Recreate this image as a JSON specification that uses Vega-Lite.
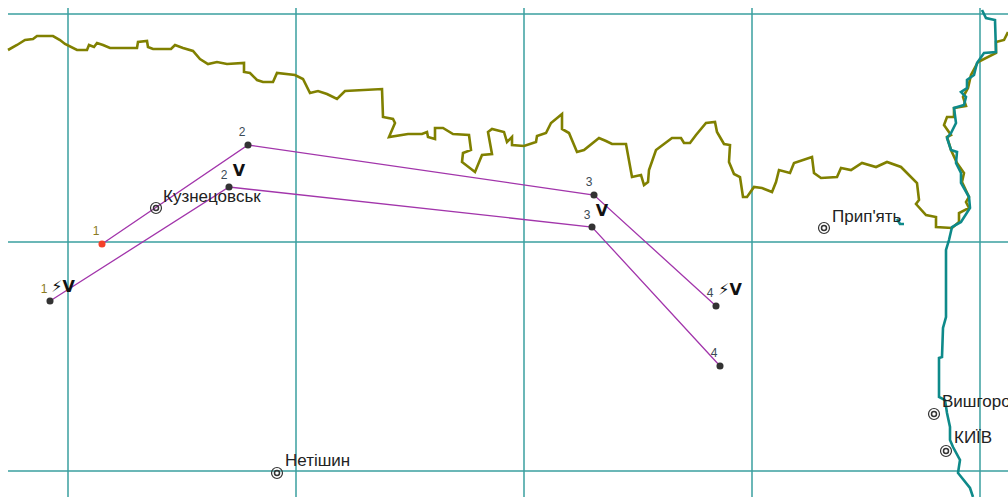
{"$schema":"https://vega.github.io/schema/vega-lite/v6.json","width":1008,"height":497,"padding":0,"autosize":"none","background":"white","config":{"view":{"stroke":null}},
"datasets":{
"grid":[{"g":"h1","x":8,"y":14},{"g":"h1","x":1008,"y":14},{"g":"h2","x":8,"y":242},{"g":"h2","x":1008,"y":242},{"g":"h3","x":8,"y":471},{"g":"h3","x":1008,"y":471},{"g":"v1","x":68,"y":8},{"g":"v1","x":68,"y":497},{"g":"v2","x":296,"y":8},{"g":"v2","x":296,"y":497},{"g":"v3","x":524,"y":8},{"g":"v3","x":524,"y":497},{"g":"v4","x":752,"y":8},{"g":"v4","x":752,"y":497},{"g":"v5","x":980,"y":8},{"g":"v5","x":980,"y":497}],
"border":[{"x":8,"y":50},{"x":17,"y":45},{"x":25,"y":40},{"x":33,"y":39},{"x":37,"y":36},{"x":53,"y":36},{"x":60,"y":40},{"x":65,"y":44},{"x":77,"y":50},{"x":87,"y":50},{"x":89,"y":45},{"x":94,"y":47},{"x":97,"y":43},{"x":103,"y":45},{"x":110,"y":48},{"x":137,"y":48},{"x":138,"y":42},{"x":147,"y":41},{"x":148,"y":47},{"x":153,"y":49},{"x":171,"y":49},{"x":175,"y":45},{"x":183,"y":48},{"x":193,"y":51},{"x":200,"y":59},{"x":208,"y":64},{"x":217,"y":62},{"x":227,"y":64},{"x":244,"y":63},{"x":244,"y":72},{"x":250,"y":73},{"x":257,"y":80},{"x":263,"y":82},{"x":273,"y":82},{"x":277,"y":73},{"x":295,"y":75},{"x":303,"y":79},{"x":310,"y":93},{"x":318,"y":91},{"x":327,"y":94},{"x":337,"y":99},{"x":345,"y":91},{"x":382,"y":89},{"x":383,"y":117},{"x":393,"y":119},{"x":395,"y":123},{"x":389,"y":137},{"x":408,"y":134},{"x":422,"y":134},{"x":427,"y":132},{"x":428,"y":137},{"x":435,"y":139},{"x":435,"y":128},{"x":443,"y":128},{"x":453,"y":134},{"x":469,"y":135},{"x":471,"y":150},{"x":463,"y":153},{"x":462,"y":162},{"x":475,"y":172},{"x":482,"y":155},{"x":492,"y":154},{"x":488,"y":132},{"x":492,"y":129},{"x":504,"y":132},{"x":507,"y":142},{"x":512,"y":137},{"x":512,"y":145},{"x":524,"y":146},{"x":536,"y":142},{"x":537,"y":136},{"x":546,"y":133},{"x":551,"y":123},{"x":562,"y":114},{"x":562,"y":129},{"x":569,"y":133},{"x":577,"y":152},{"x":584,"y":150},{"x":599,"y":138},{"x":606,"y":141},{"x":612,"y":144},{"x":626,"y":144},{"x":632,"y":177},{"x":641,"y":175},{"x":644,"y":185},{"x":648,"y":182},{"x":649,"y":170},{"x":656,"y":150},{"x":672,"y":138},{"x":681,"y":138},{"x":684,"y":143},{"x":690,"y":143},{"x":696,"y":135},{"x":706,"y":123},{"x":715,"y":122},{"x":717,"y":132},{"x":724,"y":144},{"x":730,"y":145},{"x":729,"y":162},{"x":734,"y":174},{"x":740,"y":177},{"x":743,"y":197},{"x":747,"y":197},{"x":754,"y":187},{"x":762,"y":188},{"x":772,"y":192},{"x":776,"y":182},{"x":779,"y":170},{"x":790,"y":173},{"x":794,"y":163},{"x":812,"y":157},{"x":814,"y":173},{"x":821,"y":178},{"x":837,"y":177},{"x":841,"y":168},{"x":851,"y":170},{"x":862,"y":163},{"x":876,"y":167},{"x":887,"y":162},{"x":901,"y":167},{"x":917,"y":183},{"x":919,"y":200},{"x":916,"y":204},{"x":926,"y":215},{"x":936,"y":217},{"x":936,"y":227},{"x":952,"y":228},{"x":959,"y":222},{"x":959,"y":213},{"x":969,"y":208},{"x":966,"y":202},{"x":969,"y":197},{"x":962,"y":182},{"x":964,"y":173},{"x":957,"y":163},{"x":951,"y":150},{"x":947,"y":137},{"x":951,"y":135},{"x":944,"y":125},{"x":947,"y":117},{"x":954,"y":117},{"x":954,"y":108},{"x":966,"y":106},{"x":963,"y":97},{"x":968,"y":88},{"x":971,"y":75},{"x":978,"y":62},{"x":996,"y":53},{"x":996,"y":42},{"x":1004,"y":40},{"x":1008,"y":32}],
"river":[{"r":"main","x":982,"y":10},{"r":"main","x":986,"y":18},{"r":"main","x":995,"y":20},{"r":"main","x":996,"y":52},{"r":"main","x":984,"y":53},{"r":"main","x":977,"y":63},{"r":"main","x":974,"y":75},{"r":"main","x":967,"y":80},{"r":"main","x":967,"y":88},{"r":"main","x":961,"y":92},{"r":"main","x":966,"y":97},{"r":"main","x":964,"y":105},{"r":"main","x":954,"y":108},{"r":"main","x":956,"y":123},{"r":"main","x":951,"y":133},{"r":"main","x":947,"y":138},{"r":"main","x":951,"y":150},{"r":"main","x":957,"y":152},{"r":"main","x":956,"y":163},{"r":"main","x":961,"y":173},{"r":"main","x":961,"y":183},{"r":"main","x":969,"y":197},{"r":"main","x":970,"y":208},{"r":"main","x":961,"y":222},{"r":"main","x":952,"y":227},{"r":"main","x":949,"y":240},{"r":"main","x":946,"y":250},{"r":"main","x":946,"y":317},{"r":"main","x":943,"y":328},{"r":"main","x":942,"y":357},{"r":"main","x":939,"y":358},{"r":"main","x":939,"y":397},{"r":"main","x":945,"y":400},{"r":"main","x":947,"y":413},{"r":"main","x":950,"y":427},{"r":"main","x":950,"y":440},{"r":"main","x":953,"y":447},{"r":"main","x":960,"y":460},{"r":"main","x":958,"y":473},{"r":"main","x":970,"y":488},{"r":"main","x":973,"y":497},{"r":"side","x":897,"y":219},{"r":"side","x":900,"y":224},{"r":"side","x":904,"y":224}],
"routes":[{"route":"A","order":1,"x":102,"y":244,"start":"yes"},{"route":"A","order":2,"x":248,"y":145,"start":"no"},{"route":"A","order":3,"x":594,"y":195,"start":"no"},{"route":"A","order":4,"x":716,"y":306,"start":"no"},{"route":"B","order":1,"x":50,"y":301,"start":"no"},{"route":"B","order":2,"x":229,"y":187,"start":"no"},{"route":"B","order":3,"x":592,"y":227,"start":"no"},{"route":"B","order":4,"x":720,"y":366,"start":"no"}],
"cities":[{"name":"Кузнецовськ","x":156,"y":208,"lx":163,"ly":197},{"name":"Прип'ять","x":824,"y":228,"lx":832,"ly":217},{"name":"Нетішин","x":277,"y":473,"lx":285,"ly":461},{"name":"Вишгород","x":934,"y":414,"lx":942,"ly":402},{"name":"КИЇВ","x":946,"y":451,"lx":954,"ly":438}],
"nums":[{"t":"1","x":96,"y":231,"c":"olive"},{"t":"2","x":242,"y":132,"c":"dark"},{"t":"2","x":224,"y":175,"c":"dark"},{"t":"3","x":589,"y":182,"c":"dark"},{"t":"3","x":587,"y":215,"c":"dark"},{"t":"4","x":710,"y":293,"c":"dark"},{"t":"4","x":714,"y":353,"c":"dark"},{"t":"1","x":44,"y":289,"c":"olive"}],
"symbols":[{"t":"V","x":239,"y":171},{"t":"V","x":602,"y":211},{"t":"⚡V","x":63,"y":287},{"t":"⚡V","x":730,"y":290}]
},
"resolve":{"scale":{"color":"independent"}},
"layer":[
{"data":{"name":"grid"},"mark":{"type":"line","stroke":"#3a9f9f","strokeWidth":1.5,"clip":true},"encoding":{"x":{"field":"x","type":"quantitative","scale":{"domain":[0,1008],"nice":false,"zero":false},"axis":null},"y":{"field":"y","type":"quantitative","scale":{"domain":[497,0],"nice":false,"zero":false},"axis":null},"detail":{"field":"g"}}},
{"data":{"name":"border"},"transform":[{"window":[{"op":"row_number","as":"i"}]}],"mark":{"type":"line","stroke":"#808000","strokeWidth":2.6,"clip":true},"encoding":{"x":{"field":"x","type":"quantitative"},"y":{"field":"y","type":"quantitative"},"order":{"field":"i","type":"quantitative"}}},
{"data":{"name":"river"},"transform":[{"window":[{"op":"row_number","as":"i"}]}],"mark":{"type":"line","stroke":"#0e8a8a","strokeWidth":2.6,"clip":true},"encoding":{"x":{"field":"x","type":"quantitative"},"y":{"field":"y","type":"quantitative"},"detail":{"field":"r"},"order":{"field":"i","type":"quantitative"}}},
{"data":{"name":"routes"},"mark":{"type":"line","stroke":"#a235ab","strokeWidth":1.3},"encoding":{"x":{"field":"x","type":"quantitative"},"y":{"field":"y","type":"quantitative"},"detail":{"field":"route"},"order":{"field":"order"}}},
{"data":{"name":"routes"},"mark":{"type":"point","filled":true,"size":50,"opacity":1},"encoding":{"x":{"field":"x","type":"quantitative"},"y":{"field":"y","type":"quantitative"},"color":{"field":"start","type":"nominal","scale":{"domain":["yes","no"],"range":["#f4402a","#333333"]},"legend":null}}},
{"data":{"name":"cities"},"mark":{"type":"point","filled":false,"size":120,"stroke":"#333333","strokeWidth":1.2,"opacity":1},"encoding":{"x":{"field":"x","type":"quantitative"},"y":{"field":"y","type":"quantitative"}}},
{"data":{"name":"cities"},"mark":{"type":"point","filled":false,"size":25,"stroke":"#333333","strokeWidth":1.5,"opacity":1},"encoding":{"x":{"field":"x","type":"quantitative"},"y":{"field":"y","type":"quantitative"}}},
{"data":{"name":"cities"},"mark":{"type":"text","align":"left","baseline":"middle","font":"Liberation Sans","fontSize":17,"fill":"#222222","clip":true},"encoding":{"x":{"field":"lx","type":"quantitative"},"y":{"field":"ly","type":"quantitative"},"text":{"field":"name"}}},
{"data":{"name":"nums"},"mark":{"type":"text","align":"center","baseline":"middle","font":"Liberation Sans","fontSize":12},"encoding":{"x":{"field":"x","type":"quantitative"},"y":{"field":"y","type":"quantitative"},"text":{"field":"t"},"color":{"field":"c","type":"nominal","scale":{"domain":["olive","dark"],"range":["#8a7a20","#3a4a55"]},"legend":null}}},
{"data":{"name":"symbols"},"mark":{"type":"text","align":"center","baseline":"middle","font":"DejaVu Sans","fontSize":16,"fontWeight":"bold","fill":"#111111"},"encoding":{"x":{"field":"x","type":"quantitative"},"y":{"field":"y","type":"quantitative"},"text":{"field":"t"}}}
]}
